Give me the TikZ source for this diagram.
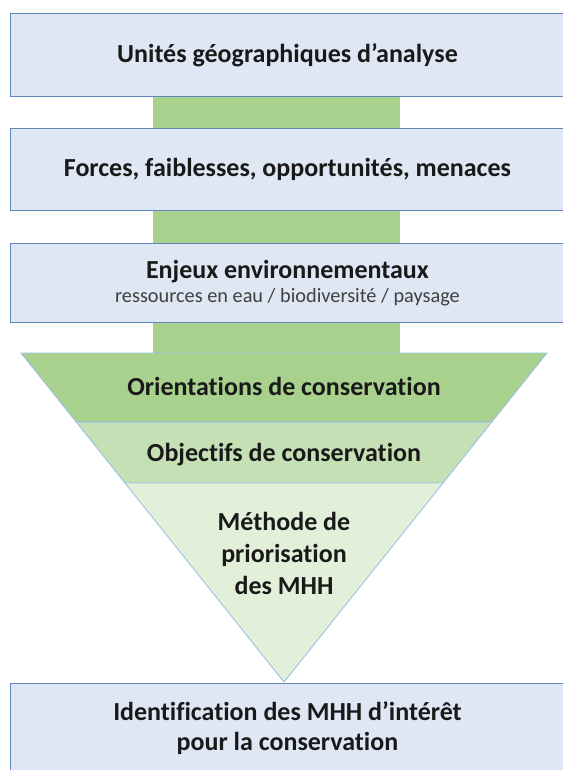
\documentclass[tikz,border=0pt]{standalone}
\usepackage{fontspec}
\setmainfont{Carlito}[Ligatures=NoCommon]
\usetikzlibrary{positioning, calc}
\definecolor{boxblue}{HTML}{DEE7F3}
\definecolor{boxline}{HTML}{5F87B8}
\definecolor{bandgreen}{HTML}{A9D18E}
\definecolor{midgreen}{HTML}{C5E0B4}
\definecolor{palegreen}{HTML}{E2F0D9}
\definecolor{edgeblue}{HTML}{9DC3E6}

\begin{document}
\begin{tikzpicture}[x=1pt, y=-1pt, node distance=31pt,
    box/.style={rectangle, draw=boxline, fill=boxblue, line width=0.9pt, minimum width=554pt, inner sep=0pt, font=\bfseries\fontsize{26}{30}\selectfont, text=black!90, align=center},
    layer/.style={draw=edgeblue, line width=0.9pt},
    caption/.style={font=\bfseries\fontsize{26}{32}\selectfont, text=black!90, align=center}]
    \useasboundingbox (0,0) rectangle (562,770);
    % green bar behind the boxes
    \fill[bandgreen] (153,96) rectangle (400,353);
    \node[box, minimum height=83pt, anchor=north west] (units) at (10,13) {Unités géographiques d’analyse};
    \node[box, minimum height=82pt] (swot) [below=31pt of units] {Forces, faiblesses, opportunités, menaces};
    \node[box, minimum height=79pt] (issues) [below=32pt of swot] {Enjeux environnementaux\\[-6pt]{\mdseries\fontsize{20.3}{24}\selectfont\color{black!75}ressources en eau / biodiversité / paysage}};
    % funnel
    \coordinate (tl) at (21,353);
    \coordinate (tr) at (547,353);
    \coordinate (tip) at (284,682);
    \coordinate (al) at ($(tl)!0.21!(tip)$);
    \coordinate (ar) at ($(tr)!0.21!(tip)$);
    \coordinate (bl) at ($(tl)!0.395!(tip)$);
    \coordinate (br) at ($(tr)!0.395!(tip)$);
    \filldraw[layer, fill=bandgreen] (tl) -- (tr) -- (ar) -- (al) -- cycle;
    \filldraw[layer, fill=midgreen] (al) -- (ar) -- (br) -- (bl) -- cycle;
    \filldraw[layer, fill=palegreen] (bl) -- (br) -- (tip) -- cycle;
    \node[caption] (orient) at (284,386) {Orientations de conservation};
    \node[caption] (goals) at (284,455) {Objectifs de conservation};
    \node[caption] (method) at (284,553) {Méthode de\\priorisation\\des MHH};
    \node[box, minimum height=90pt, anchor=north west] (result) at (10,683) {Identification des MHH d’intérêt\\pour la conservation};
\end{tikzpicture}
\end{document}
